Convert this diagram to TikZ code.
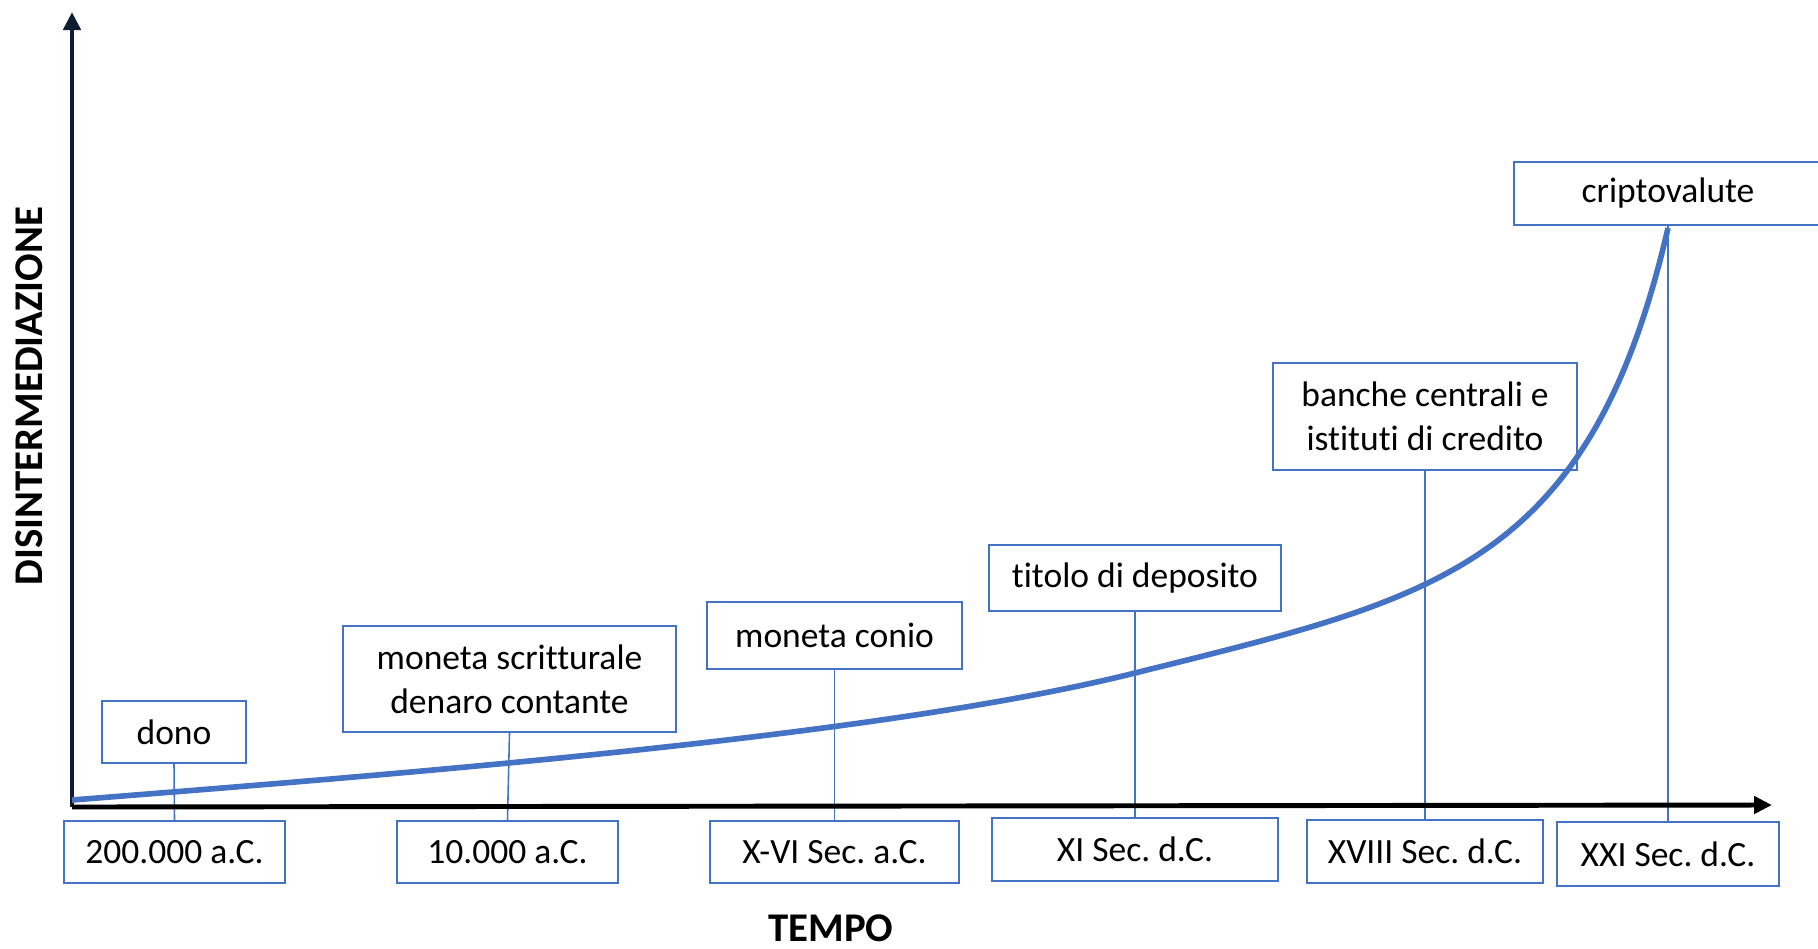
\documentclass[tikz,border=0pt]{standalone}
\usepackage{fontspec}
\setmainfont{Carlito}[Ligatures=NoCommon]
\usetikzlibrary{arrows.meta}
\definecolor{boxblue}{HTML}{4472C4}
\definecolor{axisnavy}{HTML}{0F1B33}
\frenchspacing

\begin{document}
\begin{tikzpicture}[x=0.01cm, y=-0.01cm,
		evbox/.style={draw=boxblue, line width=0.6pt, fill=white, align=center, inner sep=0pt, font=\fontsize{10.1}{12.5}\selectfont},
		link/.style={draw=boxblue, line width=0.45pt},
		axlabel/.style={font=\fontsize{11.6}{14}\selectfont\bfseries},
		axline/.style={line width=1.4pt, -{Triangle[length=0.18cm, width=0.17cm]}}]
				\useasboundingbox (0,0) rectangle (1818,948);
				
				\node[evbox, minimum width=1.44cm, minimum height=0.62cm] (dono) at (174,732) {dono};
				\node[evbox, minimum width=3.33cm, minimum height=1.06cm] (scritt) at (509.5,679) {moneta scritturale\\denaro contante};
				\node[evbox, minimum width=2.55cm, minimum height=0.67cm] (conio) at (834.5,635.5) {moneta conio};
				\node[evbox, minimum width=2.92cm, minimum height=0.66cm] (titolo) at (1135,578) {titolo di deposito};
				\node[evbox, minimum width=3.04cm, minimum height=1.07cm] (banche) at (1425,416.5) {banche centrali e\\istituti di credito};
				\node[evbox, minimum width=3.08cm, minimum height=0.63cm] (cripto) at (1668,193.5) {criptovalute};
				
				\node[evbox, minimum width=2.21cm, minimum height=0.62cm] (d200k) at (174.5,852) {200.000 a.C.};
				\node[evbox, minimum width=2.21cm, minimum height=0.62cm] (d10k) at (507.5,852) {10.000 a.C.};
				\node[evbox, minimum width=2.49cm, minimum height=0.62cm] (dXVI) at (834.5,852) {X-VI Sec. a.C.};
				\node[evbox, minimum width=2.86cm, minimum height=0.63cm] (dXI) at (1135,849.5) {XI Sec. d.C.};
				\node[evbox, minimum width=2.36cm, minimum height=0.63cm] (dXVIII) at (1425,851.5) {XVIII Sec. d.C.};
				\node[evbox, minimum width=2.22cm, minimum height=0.64cm] (dXXI) at (1668,854) {XXI Sec. d.C.};
				
				\draw[link] (dono.south) -- (d200k.north);
				\draw[link] (scritt.south) -- (d10k.north);
				\draw[link] (conio.south) -- (dXVI.north);
				\draw[link] (titolo.south) -- (dXI.north);
				\draw[link] (banche.south) -- (dXVIII.north);
				\draw[link] (cripto.south) -- (dXXI.north);
				
				\coordinate (origin) at (72,807);
				\coordinate (ytop) at (72,12);
				\coordinate (xend) at (1772,805);
				\draw[axline, axisnavy] (origin) -- (ytop);
				\draw[axline, black] (origin) -- (xend);
				
				\node[axlabel, rotate=90] (ylab) at (29,396) {DISINTERMEDIAZIONE};
				\node[axlabel] (xlab) at (831,928) {TEMPO};
				
				\draw[boxblue, line width=1.6pt] (72,800) .. controls (426,772) and (885,735.5) .. (1135,673) .. controls (1435,598) and (1589,569) .. (1668,228);
			\end{tikzpicture}
\end{document}
